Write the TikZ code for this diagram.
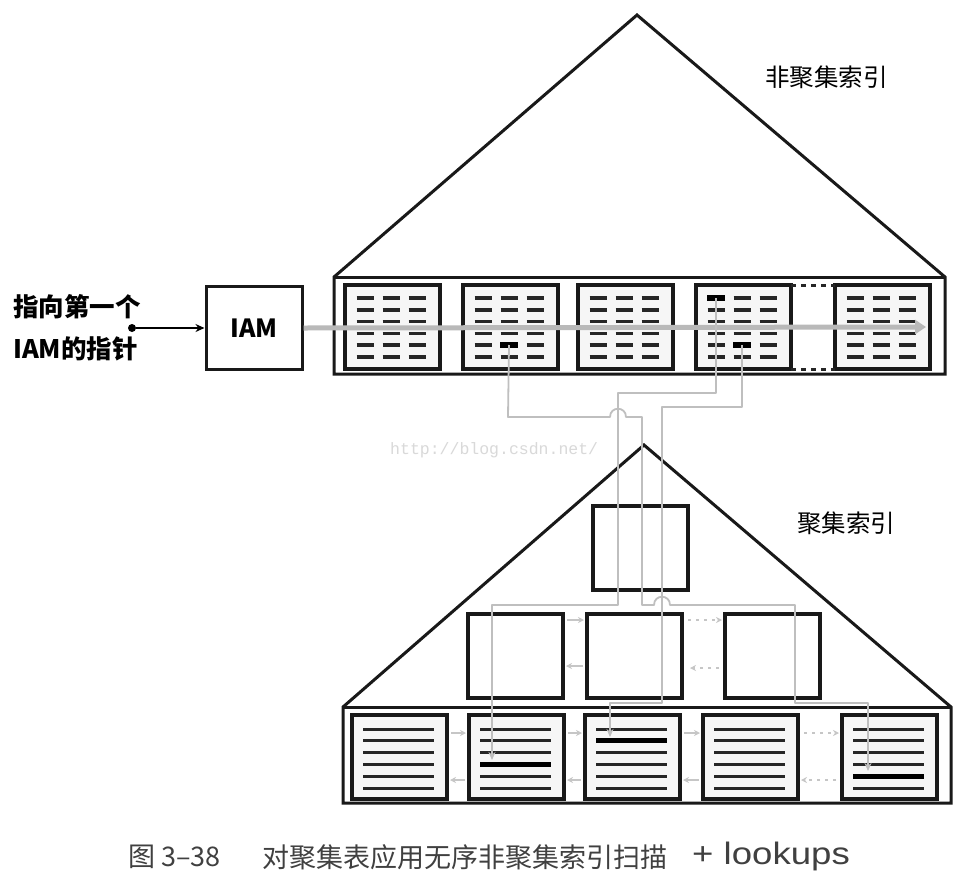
\documentclass[tikz,border=0pt]{standalone}
\usepackage{fontspec}
\setmainfont{Liberation Sans}
\newfontfamily\cjk{Noto Sans CJK SC}
\newfontfamily\wm{Liberation Mono}
\usetikzlibrary{arrows.meta,calc}
\begin{document}
\begin{tikzpicture}[x=1pt,y=-1pt,
  shell/.style={draw=black!90, line width=3pt, line join=miter},
  leafbox/.style={draw=black!90, line width=3.5pt, fill=gray!7, minimum width=95pt, minimum height=84pt, inner sep=0pt, outer sep=0pt, anchor=north west},
  inbox/.style={draw=black!90, line width=3.5pt, fill=white, minimum width=95pt, minimum height=84pt, inner sep=0pt, outer sep=0pt, anchor=north west},
  keymark/.style={line width=3.6pt, black!85},
  keyhot/.style={line width=6pt, black},
  rowline/.style={line width=3pt, black!85},
  rowhot/.style={line width=5pt, black},
  lookup/.style={draw=gray!50, line width=1.8pt, line join=round},
  lookuptip/.style={-{Stealth[length=8pt,width=7pt]}},
  link/.style={draw=gray!45, line width=1.3pt, -{Stealth[length=6pt,width=6pt]}},
  linkdot/.style={link, dash pattern=on 3pt off 5pt},
  lbl/.style={font=\cjk\fontsize{24.5}{26}\selectfont, inner sep=0pt, anchor=west},
  ptrlbl/.style={font=\cjk\bfseries\fontsize{25.5}{28}\selectfont, inner sep=0pt, anchor=west},
  captxt/.style={font=\cjk\fontsize{27}{30}\selectfont, text=black!75, inner sep=0pt, anchor=west},
]
\useasboundingbox (0,0) rectangle (972,876);
\fill[white] (0,0) rectangle (972,876);

% ---------- non-clustered index (top) ----------
\draw[shell] (334,374) -- (334,277) -- (637,15) -- (945,277) -- (945,374) -- cycle;
\draw[shell] (334,277) -- (945,277);
\foreach \n/\x in {1/345,2/463,3/578,4/696,5/835}
  \node[leafbox] (t\n) at (\x,285) {};
\draw[line width=3pt, black!85, dash pattern=on 5pt off 5pt] (t4.north east) -- (t5.north west);
\draw[line width=3pt, black!85, dash pattern=on 5pt off 5pt] (t4.south east) -- (t5.south west);
\foreach \x in {345,463,578,696,835}
  \foreach \c in {20,46,72}
    \foreach \r in {0,...,5}
      \draw[keymark] (\x+\c-8.5, 298+11.8*\r) -- (\x+\c+8.5, 298+11.8*\r);
\draw[keyhot] (500,345) -- (518,345);
\draw[keyhot] (707,298) -- (725,298);
\draw[keyhot] (733,345) -- (751,345);
\coordinate (k1) at (509,345);
\coordinate (k2) at (716,298);
\coordinate (k3) at (742,345);

\node[lbl] (nci) at (765,77) {非聚集索引};

% ---------- IAM ----------
\node[draw=black!90, line width=3pt, minimum width=96pt, minimum height=83pt, inner sep=0pt,
      font=\cjk\bfseries\fontsize{25}{28}\selectfont] (iam) at (254,328) {IAM};
\node[ptrlbl] (ptxt1) at (13,307) {指向第一个};
\node[ptrlbl] (ptxt2) at (13,349) {IAM的指针};
\node[circle, fill=black, inner sep=0pt, minimum size=8pt] (ptr) at (132,328) {};
\draw[line width=2pt, -{Stealth[length=9pt,width=8pt]}] (ptr) -- (iam.west);

% scan arrow
\coordinate (scanend) at (926,327);
\draw[line width=5pt, gray!55, -{Triangle[length=11pt,width=14pt]}] (iam.east) -- (scanend);

% ---------- clustered index (bottom) ----------
\draw[shell] (343,803) -- (343,707) -- (644,445) -- (951,707) -- (951,803) -- cycle;
\draw[shell] (343,707) -- (951,707);
\node[inbox] (root) at (593,506) {};
\node[inbox] (ma) at (468,614) {};
\node[inbox] (mb) at (587,614) {};
\node[inbox] (mc) at (725,614) {};
\foreach \n/\x in {1/352,2/469,3/585,4/703,5/842}
  \node[leafbox] (b\n) at (\x,715) {};
\foreach \x in {352,469,585,703,842}
  \foreach \r in {0,...,5}
    \draw[rowline] (\x+11, 729+11.8*\r) -- (\x+82, 729+11.8*\r);
\draw[rowhot] (480,764.4) -- (551,764.4);
\draw[rowhot] (596,740.8) -- (667,740.8);
\draw[rowhot] (853,776.2) -- (924,776.2);

\node[lbl] (ci) at (797,523) {聚集索引};

% leaf-level links
\foreach \a/\b in {1/2,2/3,3/4} {
  \draw[link] ($(b\a.east)+(4,-24)$) -- ($(b\b.west)+(-3,-24)$);
  \draw[link] ($(b\b.west)+(-4,23)$) -- ($(b\a.east)+(3,23)$);
}
\draw[linkdot] ($(b4.east)+(6,-24)$) -- ($(b5.west)+(-3,-24)$);
\draw[linkdot] ($(b5.west)+(-6,23)$) -- ($(b4.east)+(3,23)$);
% intermediate-level links
\draw[link] ($(ma.east)+(4,-36)$) -- ($(mb.west)+(-3,-36)$);
\draw[link] ($(mb.west)+(-4,10)$) -- ($(ma.east)+(3,10)$);
\draw[linkdot] ($(mb.east)+(6,-36)$) -- ($(mc.west)+(-3,-36)$);
\draw[linkdot] ($(mc.west)+(-6,12)$) -- ($(mb.east)+(8,12)$);

% ---------- lookups ----------
\coordinate (e1) at (868,771);
\coordinate (e2) at (492,760);
\coordinate (e3) at (610,737);
\draw[lookup, lookuptip] (k1) -- (508,417) -- (610,417)
   .. controls (610,406) and (626,406) .. (626,417) -- (642,417) -- (642,605) -- (654,605)
   .. controls (654,594) and (670,594) .. (670,605) -- (795,605) -- (795,703) -- (868,703) -- (e1);
\draw[lookup, lookuptip] (k2) -- (716,393) -- (618,393) -- (618,605) -- (492,605) -- (e2);
\draw[lookup, lookuptip] (k3) -- (742,407) -- (662,407) -- (662,703) -- (610,703) -- (e3);

% watermark
\node[font=\wm\fontsize{16.5}{18}\selectfont, text=gray!30, inner sep=0pt, anchor=west] (wmark) at (390,450) {http://blog.csdn.net/};

% caption
\node[captxt] (cap1) at (128,857) {图 3–38};
\node[captxt] (cap2) at (262,857) {对聚集表应用无序非聚集索引扫描};
\node[captxt, font=\fontsize{31}{34}\selectfont, transform shape, xscale=1.18] (cap3) at (692,856) {+ lookups};
\end{tikzpicture}
\end{document}
